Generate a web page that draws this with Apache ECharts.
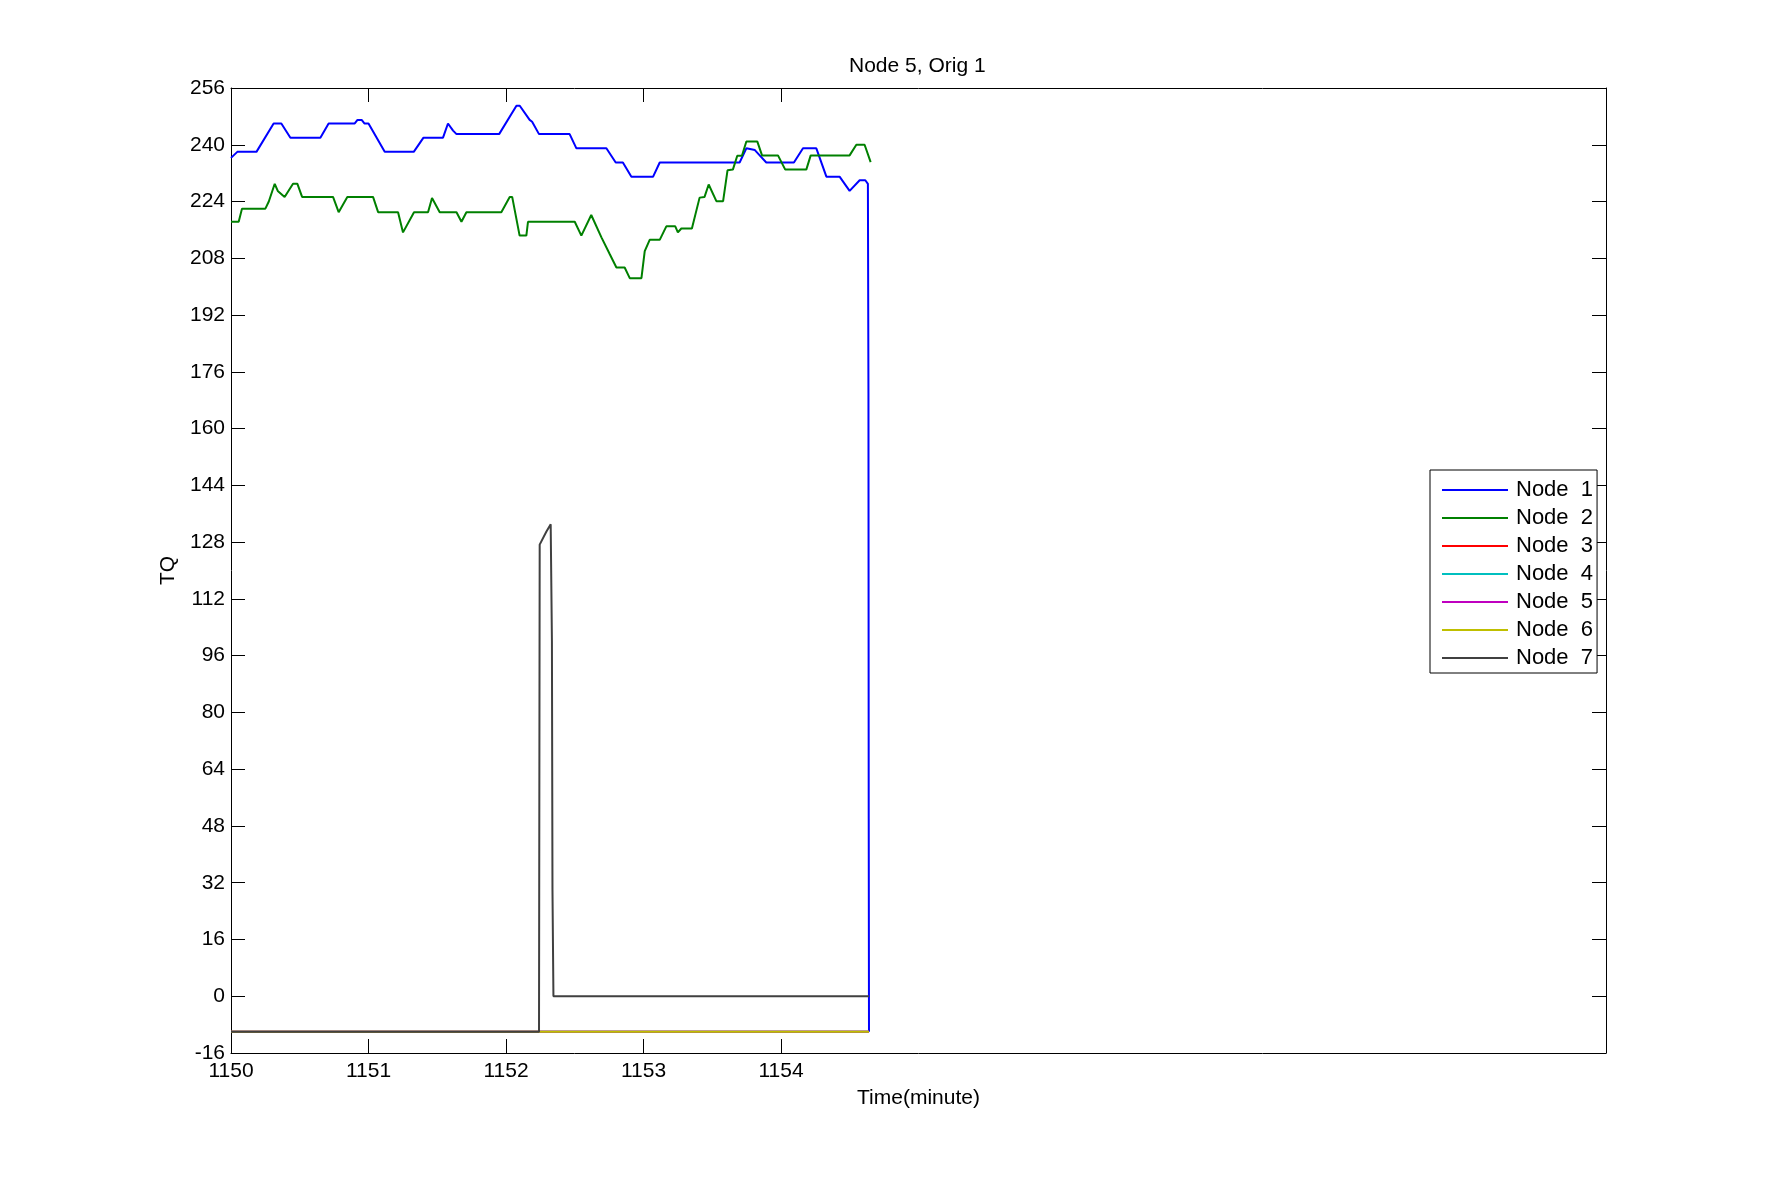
<!DOCTYPE html>
<html>
<head>
<meta charset="utf-8">
<title>Node 5, Orig 1</title>
<script src="https://cdn.jsdelivr.net/npm/echarts@6/dist/echarts.min.js"></script>
<style>
  html, body { margin: 0; padding: 0; background: #fff; }
  #main { width: 1775px; height: 1183px; }
</style>
</head>
<body>
<div id="main"></div>
<script>
// tick labels
var xTicks = [1150, 1151, 1152, 1153, 1154];

// Node 1 (blue) - time / TQ breakpoints
var t1 = [1150.000, 1150.046, 1150.185, 1150.310, 1150.366, 1150.432, 1150.650, 1150.710, 1150.900, 1150.920,
  1150.950, 1150.970, 1151.000, 1151.118, 1151.329, 1151.400, 1151.542, 1151.578, 1151.615, 1151.640,
  1151.950, 1152.076, 1152.100, 1152.172, 1152.190, 1152.240, 1152.463, 1152.512, 1152.730, 1152.798,
  1152.850, 1152.912, 1153.070, 1153.118, 1153.699, 1153.748, 1153.810, 1153.845, 1153.893, 1154.094,
  1154.160, 1154.257, 1154.330, 1154.426, 1154.499, 1154.572, 1154.613, 1154.632, 1154.636, 1154.638,
  1154.640];
var v1 = [236.3, 238, 238, 246, 246, 242, 242, 246, 246, 247,
  247, 246, 246, 238, 238, 242, 242, 246, 244, 243,
  243, 251, 251, 247, 246.5, 243, 243, 239, 239, 235,
  235, 231, 231, 235, 235, 239, 238.5, 237, 235, 235,
  239, 239, 231, 231, 227, 230, 230, 229, 170, 50,
  -10];

// Node 2 (green)
var t2 = [1150.000, 1150.056, 1150.080, 1150.250, 1150.275, 1150.318, 1150.340, 1150.390, 1150.451, 1150.483,
  1150.517, 1150.742, 1150.783, 1150.846, 1151.033, 1151.070, 1151.215, 1151.251, 1151.331, 1151.433,
  1151.462, 1151.518, 1151.640, 1151.676, 1151.712, 1151.966, 1152.027, 1152.045, 1152.099, 1152.148,
  1152.160, 1152.500, 1152.548, 1152.620, 1152.694, 1152.754, 1152.803, 1152.863, 1152.900, 1152.985,
  1153.009, 1153.045, 1153.118, 1153.166, 1153.231, 1153.250, 1153.275, 1153.352, 1153.408, 1153.444,
  1153.474, 1153.530, 1153.579, 1153.611, 1153.650, 1153.682, 1153.716, 1153.748, 1153.828, 1153.862,
  1153.978, 1154.031, 1154.184, 1154.216, 1154.499, 1154.548, 1154.608, 1154.652];
var v2 = [218.3, 218.3, 222, 222, 224, 229, 227, 225.3, 229, 229,
  225.3, 225.3, 221, 225.3, 225.3, 221, 221, 215.3, 221, 221,
  225, 221, 221, 218.3, 221, 221, 225.3, 225.3, 214.4, 214.4,
  218.3, 218.3, 214.4, 220.2, 213.9, 209.2, 205.4, 205.4, 202.4, 202.4,
  210, 213.2, 213.2, 217, 217, 215.3, 216.4, 216.4, 225.1, 225.3,
  228.8, 224.1, 224.1, 232.8, 233, 236.9, 236.9, 240.9, 240.9, 237,
  237, 233, 233, 237, 237, 240, 240, 235.1];

// Nodes 3-6 sit flat at the bottom
var tFlat = [1150, 1154.64];
var vFlat = [-10, -10];

// Node 7 (dark grey)
var t7 = [1150, 1152.240, 1152.245, 1152.294, 1152.325, 1152.330, 1152.334, 1152.338, 1152.345, 1154.640];
var v7 = [-10, -10, 127.3, 131, 133, 133, 100, 30, 0, 0];

var names = ["Node  1", "Node  2", "Node  3", "Node  4", "Node  5", "Node  6", "Node  7"];
var colors = ["#0000ff", "#008000", "#ff0000", "#00bfbf", "#bf00bf", "#bfbf00", "#404040"];

function pairs(t, v) {
  return t.map(function (x, i) { return [x, v[i]]; });
}
var seriesData = [pairs(t1, v1), pairs(t2, v2), pairs(tFlat, vFlat), pairs(tFlat, vFlat),
  pairs(tFlat, vFlat), pairs(tFlat, vFlat), pairs(t7, v7)];

var font = "Liberation Sans, Arial, Helvetica, sans-serif";
var myChart = echarts.init(document.getElementById("main"));

var series = [];
for (var i = 0; i < names.length; i++) {
  series.push({
    name: names[i],
    type: "line",
    symbol: "none",
    showSymbol: false,
    color: colors[i],
    lineStyle: { color: colors[i], width: 2 },
    data: seriesData[i],
  });
}

var tick = { show: true, inside: true, length: 14, lineStyle: { color: "#000", width: 1 } };
var line = { show: true, onZero: false, lineStyle: { color: "#000", width: 1 } };

myChart.setOption({
  animation: false,
  backgroundColor: "#fff",
  textStyle: { fontFamily: font, color: "#000" },
  title: {
    text: "Node 5, Orig 1",
    left: 844,
    top: 51,
    textStyle: { fontFamily: font, fontSize: 21, fontWeight: "normal", color: "#000" },
  },
  grid: { left: 231, right: 169, top: 88, bottom: 130 },
  legend: {
    orient: "vertical",
    left: 1430,
    top: 470,
    padding: [9, 4, 4, 12],
    itemGap: 6,
    itemWidth: 66,
    itemHeight: 14,
    icon: "path://M0,0H66V2H0Z",
    backgroundColor: "#fff",
    borderColor: "#000",
    borderWidth: 1,
    borderRadius: 0,
    selectedMode: false,
    textStyle: { fontFamily: font, fontSize: 22, color: "#000", lineHeight: 22, padding: [0, 0, 0, 3] },
    data: names,
  },
  xAxis: [
    {
      type: "value",
      position: "bottom",
      min: 1150,
      max: 1160,
      name: "Time(minute)",
      nameLocation: "middle",
      nameGap: 35,
      nameTextStyle: { fontFamily: font, fontSize: 21, color: "#000" },
      axisLine: line,
      axisTick: Object.assign({ customValues: xTicks }, tick),
      axisLabel: {
        customValues: xTicks,
        fontSize: 21,
        color: "#000",
        margin: 8,
        fontFamily: font,
        formatter: function (value) {
          return String(value);
        },
      },
      splitLine: { show: false },
    },
    {
      type: "value",
      position: "top",
      min: 1150,
      max: 1160,
      axisLine: line,
      axisTick: Object.assign({ customValues: xTicks }, tick),
      axisLabel: { show: false },
      splitLine: { show: false },
    },
  ],
  yAxis: [
    {
      type: "value",
      position: "left",
      min: -16,
      max: 256,
      interval: 16,
      name: "TQ",
      nameLocation: "middle",
      nameGap: 52,
      nameTextStyle: { fontFamily: font, fontSize: 21, color: "#000" },
      axisLine: line,
      axisTick: tick,
      axisLabel: { fontSize: 21, color: "#000", margin: 6, fontFamily: font },
      splitLine: { show: false },
    },
    {
      type: "value",
      position: "right",
      min: -16,
      max: 256,
      interval: 16,
      axisLine: line,
      axisTick: tick,
      axisLabel: { show: false },
      splitLine: { show: false },
    },
  ],
  series: series,
});
</script>
</body>
</html>
